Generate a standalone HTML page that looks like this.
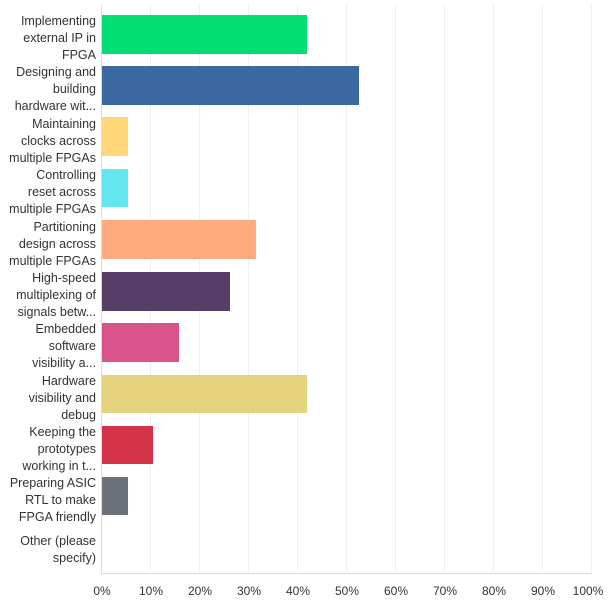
<!DOCTYPE html>
<html><head><meta charset="utf-8"><style>
body{margin:0;background:#fff;width:615px;height:607px;overflow:hidden;font-family:"Liberation Sans",sans-serif;}
svg text{font-family:"Liberation Sans",sans-serif;fill:#333;font-size:12.5px}
</style></head><body>
<svg width="615" height="607" xmlns="http://www.w3.org/2000/svg">
<g stroke="#efefef" stroke-width="1">
<line x1="150.5" y1="5" x2="150.5" y2="573"/><line x1="199.5" y1="5" x2="199.5" y2="573"/>
<line x1="248.5" y1="5" x2="248.5" y2="573"/><line x1="297.5" y1="5" x2="297.5" y2="573"/>
<line x1="346.5" y1="5" x2="346.5" y2="573"/><line x1="395.5" y1="5" x2="395.5" y2="573"/>
<line x1="444.5" y1="5" x2="444.5" y2="573"/><line x1="493.5" y1="5" x2="493.5" y2="573"/>
<line x1="542.5" y1="5" x2="542.5" y2="573"/><line x1="591.5" y1="5" x2="591.5" y2="573"/>
</g>
<g stroke="#ddd" stroke-width="1"><line x1="101.5" y1="5" x2="101.5" y2="573.5"/><line x1="101" y1="573.5" x2="592" y2="573.5"/></g>
<rect x="102" y="15" width="205" height="39" fill="#00de74"/>
<rect x="102" y="66" width="257" height="39" fill="#3b68a0"/>
<rect x="102" y="117" width="26" height="39" fill="#ffd77a"/>
<rect x="102" y="169" width="26" height="38" fill="#63e6ef"/>
<rect x="102" y="220" width="154" height="39" fill="#ffab7d"/>
<rect x="102" y="272" width="128" height="39" fill="#563e66"/>
<rect x="102" y="323" width="77" height="39" fill="#d9538b"/>
<rect x="102" y="375" width="205" height="38" fill="#e5d27c"/>
<rect x="102" y="426" width="51" height="38" fill="#d3344a"/>
<rect x="102" y="477" width="26" height="38" fill="#6b727a"/>
<g text-anchor="end">
<text x="96" y="25">Implementing</text><text x="96" y="42">external IP in</text><text x="96" y="59">FPGA</text>
<text x="96" y="76">Designing and</text><text x="96" y="93">building</text><text x="96" y="110">hardware wit...</text>
<text x="96" y="128">Maintaining</text><text x="96" y="145">clocks across</text><text x="96" y="162">multiple FPGAs</text>
<text x="96" y="179">Controlling</text><text x="96" y="196">reset across</text><text x="96" y="213">multiple FPGAs</text>
<text x="96" y="231">Partitioning</text><text x="96" y="248">design across</text><text x="96" y="265">multiple FPGAs</text>
<text x="96" y="282">High-speed</text><text x="96" y="299">multiplexing of</text><text x="96" y="316">signals betw...</text>
<text x="96" y="333">Embedded</text><text x="96" y="350">software</text><text x="96" y="367">visibility a...</text>
<text x="96" y="385">Hardware</text><text x="96" y="402">visibility and</text><text x="96" y="419">debug</text>
<text x="96" y="436">Keeping the</text><text x="96" y="453">prototypes</text><text x="96" y="470">working in t...</text>
<text x="96" y="487">Preparing ASIC</text><text x="96" y="504">RTL to make</text><text x="96" y="521">FPGA friendly</text>
<text x="96" y="545">Other (please</text><text x="96" y="562">specify)</text>
</g>
<g text-anchor="middle" style="font-size:12px">
<text x="102" y="595" style="font-size:12px">0%</text><text x="151" y="595" style="font-size:12px">10%</text><text x="200" y="595" style="font-size:12px">20%</text>
<text x="249" y="595" style="font-size:12px">30%</text><text x="298" y="595" style="font-size:12px">40%</text><text x="347" y="595" style="font-size:12px">50%</text>
<text x="396" y="595" style="font-size:12px">60%</text><text x="445" y="595" style="font-size:12px">70%</text><text x="494" y="595" style="font-size:12px">80%</text>
<text x="543" y="595" style="font-size:12px">90%</text><text x="588" y="595" style="font-size:12px">100%</text>
</g>
</svg>
</body></html>
